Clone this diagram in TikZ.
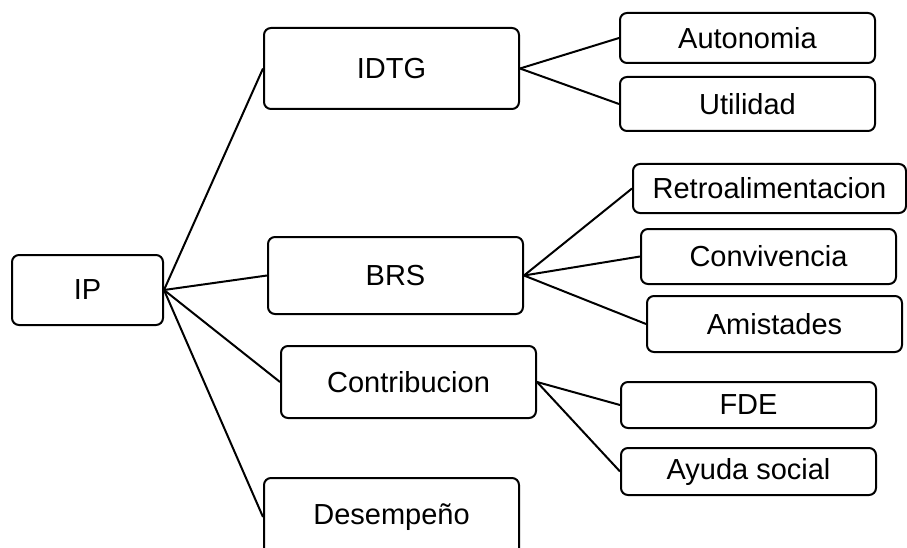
\documentclass[tikz,border=0pt]{standalone}
\usepackage{fontspec}
\setmainfont{Liberation Sans}
\begin{document}
\begin{tikzpicture}[x=1pt,y=-1pt,
  box/.style={draw=black, line width=2pt, rounded corners=7pt, fill=white,
    inner sep=0pt, font=\fontsize{29}{34}\selectfont},
  link/.style={draw=black, line width=2pt}]
\useasboundingbox (0,0) rectangle (907,548);
% root
\node[box, minimum width=151pt, minimum height=70pt] (ip) at (87.5,290) {IP};
% second level
\node[box, minimum width=255pt, minimum height=81pt] (idtg) at (391.5,68.5) {IDTG};
\node[box, minimum width=255pt, minimum height=77pt] (brs) at (395.5,275.5) {BRS};
\node[box, minimum width=255pt, minimum height=72pt] (contr) at (408.5,382) {Contribucion};
\node[box, minimum width=255pt, minimum height=78pt] (desem) at (391.5,517) {Desempeño};
% leaves
\node[box, minimum width=255pt, minimum height=50pt] (auto) at (747.5,38) {Autonomia};
\node[box, minimum width=255pt, minimum height=54pt] (util) at (747.5,104) {Utilidad};
\node[box, minimum width=273pt, minimum height=49pt] (retro) at (769.5,188.5) {Retroalimentacion};
\node[box, minimum width=255pt, minimum height=55pt] (conv) at (768.5,256.5) {Convivencia};
\node[box, minimum width=255pt, minimum height=56pt] (amis) at (774.5,324) {Amistades};
\node[box, minimum width=255pt, minimum height=46pt] (fde) at (748.5,405) {FDE};
\node[box, minimum width=255pt, minimum height=47pt] (ayuda) at (748.5,471.5) {Ayuda social};
% connectors
\foreach \t in {idtg,brs,contr,desem} \draw[link] (ip.east) -- (\t.west);
\foreach \t in {auto,util} \draw[link] (idtg.east) -- (\t.west);
\foreach \t in {retro,conv,amis} \draw[link] (brs.east) -- (\t.west);
\foreach \t in {fde,ayuda} \draw[link] (contr.east) -- (\t.west);
\end{tikzpicture}
\end{document}
